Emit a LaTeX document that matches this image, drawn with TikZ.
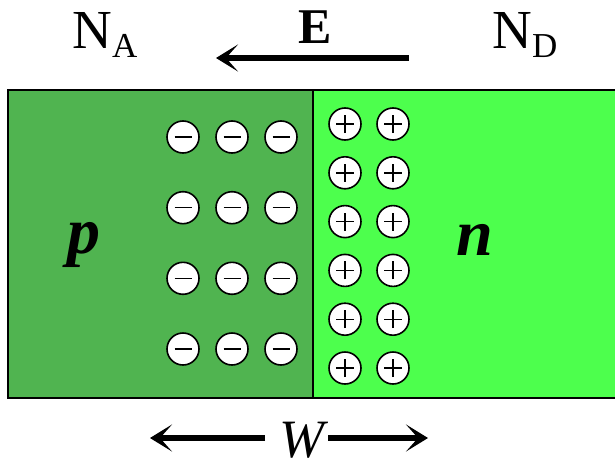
\documentclass[tikz,border=0pt]{standalone}
\usepackage{fontspec}
\setmainfont{Liberation Serif}
\usetikzlibrary{arrows.meta}
\definecolor{pside}{RGB}{80,180,80}
\definecolor{nside}{RGB}{77,255,77}
\begin{document}
\begin{tikzpicture}[x=1pt,y=-1pt,
  ion/.style={circle,draw,line width=1.6pt,fill=white,minimum size=32pt,inner sep=0pt},
  sign/.style={line width=1.4pt},
  bigarrow/.style={line width=5.5pt,-{Stealth[length=22pt,width=27pt,inset=12pt]}},
  lbl/.style={inner sep=0pt,anchor=base}]
\useasboundingbox (0,0) rectangle (615,463);
% regions
\fill[pside] (8,90) rectangle (313,398);
\fill[nside] (313,90) rectangle (625,398);
\draw[line width=1.5pt] (625,90) -- (8,90) -- (8,398) -- (625,398);
\draw[line width=1.5pt] (313,90) -- (313,398);
% negative ions
\foreach \x [count=\i] in {183,232,281}{
  \foreach \y [count=\j] in {137,207.7,278.3,349}{
    \node[ion] (m\i\j) at (\x,\y) {};
    \draw[sign] ([xshift=-8.5pt]m\i\j.center) -- ([xshift=8.5pt]m\i\j.center);
  }
}
% positive ions
\foreach \x [count=\i] in {345,393}{
  \foreach \y [count=\j] in {124,172.8,221.6,270.4,319.2,368}{
    \node[ion] (q\i\j) at (\x,\y) {};
    \draw[sign] ([xshift=-9pt]q\i\j.center) -- ([xshift=9pt]q\i\j.center);
    \draw[sign] ([yshift=-9pt]q\i\j.center) -- ([yshift=9pt]q\i\j.center);
  }
}
% labels
\node[lbl] (NA) at (105,48) {\fontsize{55}{55}\selectfont N\raisebox{-9pt}{\fontsize{35}{35}\selectfont A}};
\node[lbl] (ND) at (525,48) {\fontsize{55}{55}\selectfont N\raisebox{-9pt}{\fontsize{35}{35}\selectfont D}};
\node[lbl] (E) at (315,43) {\fontsize{50}{50}\selectfont\bfseries E};
\coordinate (e1) at (409,58);
\coordinate (e2) at (216,58);
\draw[bigarrow] (e1) -- (e2);
\node[lbl] (p) at (84,253) {\fontsize{66}{66}\selectfont\bfseries\itshape p};
\node[lbl] (n) at (475,255) {\fontsize{66}{66}\selectfont\bfseries\itshape n};
\node[lbl] (W) at (302,457) {\fontsize{54}{54}\selectfont\itshape W};
\coordinate (wl0) at (265,438);
\coordinate (wl) at (150,438);
\coordinate (wr0) at (328,438);
\coordinate (wr) at (428,438);
\draw[bigarrow] (wl0) -- (wl);
\draw[bigarrow] (wr0) -- (wr);
\end{tikzpicture}
\end{document}
